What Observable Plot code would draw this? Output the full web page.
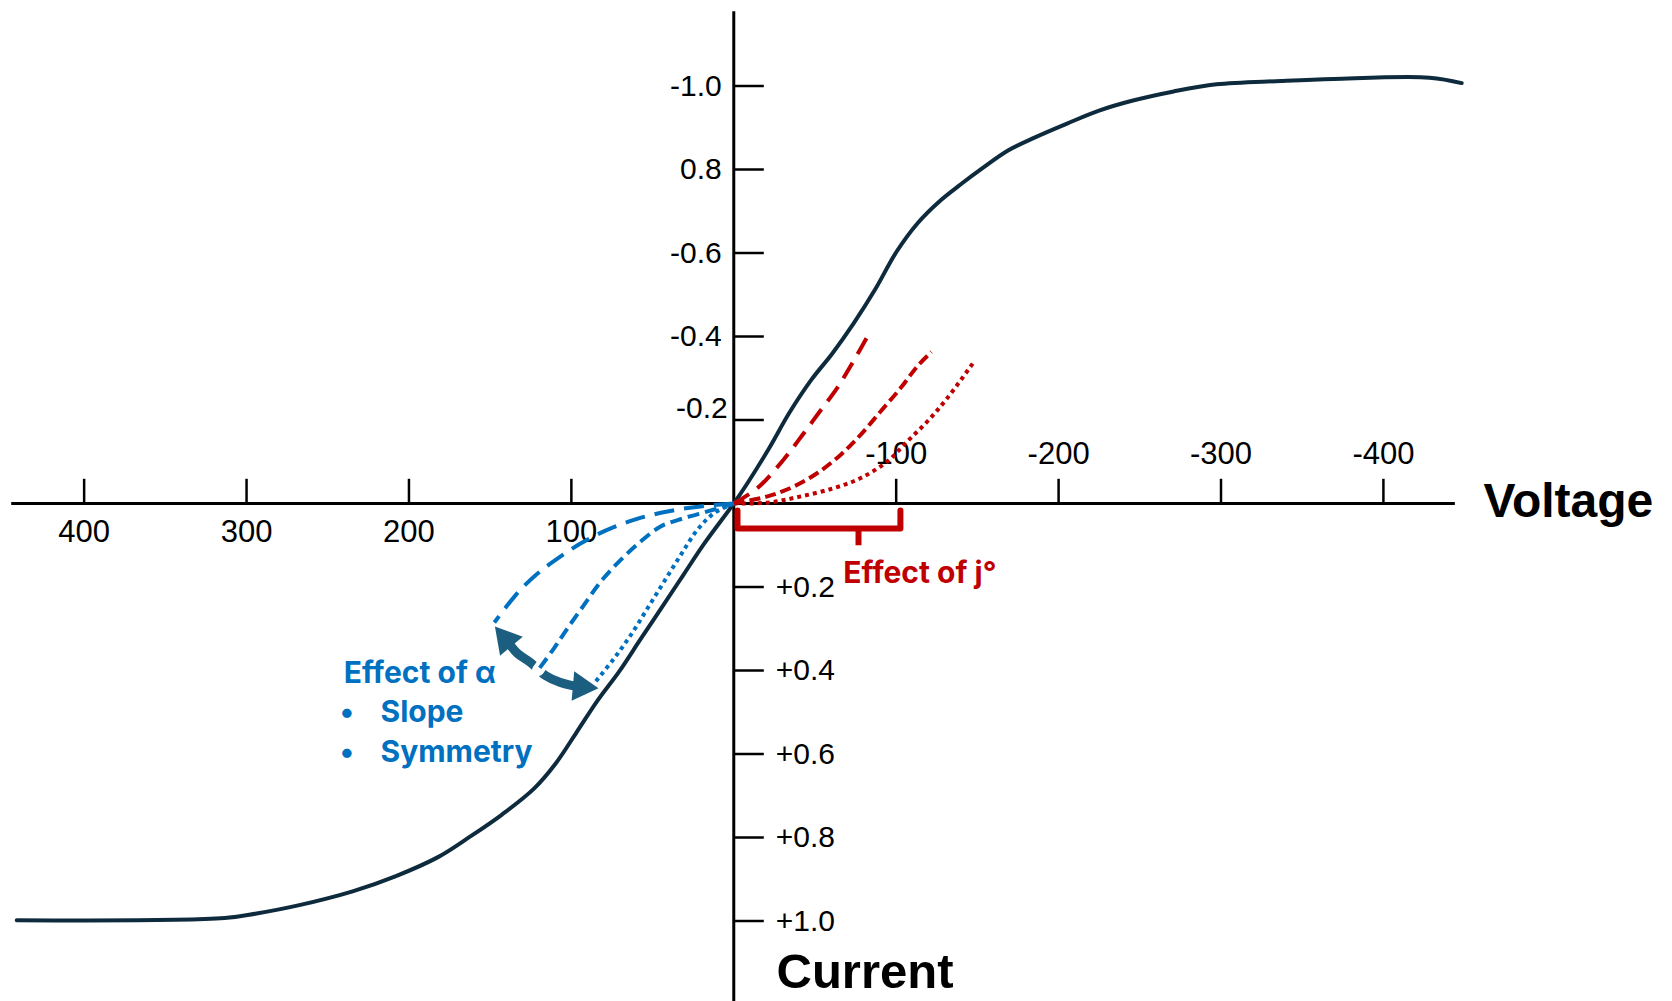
<!DOCTYPE html>
<html>
<head>
<meta charset="utf-8">
<script src="https://cdn.jsdelivr.net/npm/d3@7"></script>
<script src="https://cdn.jsdelivr.net/npm/@observablehq/plot@0.6"></script>
<style>
  html, body { margin: 0; padding: 0; background: #ffffff; }
  #chart svg { display: block; }
</style>
</head>
<body>
<div id="chart"></div>
<script>
// ---------------- DATA ----------------
// Voltage (mV, positive to the left) and current (normalised, negative upward)
const mainVoltage = [441.5, 313.5, 293.8, 267.5, 234.7, 208.4, 182.1, 162.4, 142.7, 123.0, 109.9, 96.8, 83.7, 70.5, 57.4, 44.3, 31.2, 18.0, 0,
  -8.3, -21.4, -34.5, -47.7, -60.8, -73.9, -87.1, -100.2, -113.3, -126.4, -139.6, -152.7, -169.1, -185.5, -205.2, -224.9, -244.6, -270.9, -297.2, -336.6, -369.4, -428.4, -448.2];
const mainCurrent = [0.998, 0.993, 0.982, 0.962, 0.929, 0.893, 0.847, 0.798, 0.745, 0.683, 0.624, 0.548, 0.471, 0.402, 0.325, 0.249, 0.172, 0.095, 0,
  -0.048, -0.130, -0.219, -0.296, -0.360, -0.432, -0.513, -0.603, -0.672, -0.723, -0.764, -0.802, -0.846, -0.877, -0.910, -0.941, -0.964, -0.987, -1.004, -1.012, -1.017, -1.020, -1.007];

// Effect of j° (red)
const redLongV = [0, -14.6, -30.0, -41.7, -52.5, -63.4, -72.5, -83.9];
const redLongI = [0, -0.037, -0.102, -0.161, -0.218, -0.275, -0.333, -0.411];
const redMidV = [0, -20.8, -37.1, -51.5, -65.9, -78.2, -90.5, -102.8, -113.1, -121.7];
const redMidI = [0, -0.017, -0.041, -0.073, -0.117, -0.165, -0.221, -0.277, -0.329, -0.363];
const redDotV = [0, -20.8, -41.3, -61.8, -78.2, -94.6, -106.9, -119.3, -131.6, -147.6];
const redDotI = [0, -0.002, -0.017, -0.037, -0.061, -0.101, -0.149, -0.197, -0.253, -0.338];

// Effect of α (blue)
const blueLongV = [0, 20.5, 40.8, 60.5, 79.0, 94.4, 108.6, 121.5, 134.4, 147.4];
const blueLongI = [0, 0.007, 0.019, 0.038, 0.065, 0.096, 0.132, 0.170, 0.220, 0.285];
const blueMidV = [0, 16.2, 30.6, 45.0, 57.3, 69.6, 81.9, 92.2, 102.4, 110.7, 120.5];
const blueMidI = [0, 0.019, 0.035, 0.055, 0.091, 0.135, 0.187, 0.243, 0.299, 0.347, 0.399];
const blueDotV = [0, 12.1, 22.4, 32.6, 42.9, 53.1, 63.4, 73.7, 86.0];
const blueDotI = [0, 0.023, 0.063, 0.123, 0.187, 0.251, 0.315, 0.371, 0.431];

// Axes
const axisVoltageExtent = [444.6, -444.3];
const axisCurrentExtent = [-1.178, 1.2];
const voltageTicksLeft = [400, 300, 200, 100];
const voltageTickLabelsLeft = ["400", "300", "200", "100"];
const voltageTicksRight = [-100, -200, -300, -400];
const voltageTickLabelsRight = ["-100", "-200", "-300", "-400"];
const currentTicksUp = [-1.0, -0.8, -0.6, -0.4, -0.2];
const currentTickLabelsUp = ["-1.0", "0.8", "-0.6", "-0.4", "-0.2"];
const currentTicksDown = [0.2, 0.4, 0.6, 0.8, 1.0];
const currentTickLabelsDown = ["+0.2", "+0.4", "+0.6", "+0.8", "+1.0"];

// Annotations (anchor points in data units)
const braceV = [-2.3, -2.3, -102.6, -102.6];
const braceI = [0.017, 0.06, 0.06, 0.017];
const braceStemV = [-76.8, -76.8];
const braceStemI = [0.06, 0.10];
const arrowArcV = [138.7, 133.2, 125.2, 116.0, 106.7, 97.0];
const arrowArcI = [0.333, 0.359, 0.381, 0.412, 0.429, 0.438];
const arrowHeadV = [140.3, 93.8];
const arrowHeadI = [0.326, 0.439];
const arrowHeadAngle = [-40, 95];

const titleTexts = ["Voltage", "Current"];
const titleV = [-461.6, -26.3];
const titleI = [-0.005, 1.123];
const noteTexts = ["Effect of j°", "Effect of α", "Slope", "Symmetry"];
const noteV = [-67.4, 240.2, 217.5, 217.5];
const noteI = [0.168, 0.407, 0.50, 0.596];
const bulletV = [238.2, 238.2];
const bulletI = [0.50, 0.596];

// ---------------- BUILD ----------------
const zip = (vs, is) => vs.map((v, k) => ({v, i: is[k]}));
const mainData = zip(mainVoltage, mainCurrent);
const red1 = zip(redLongV, redLongI), red2 = zip(redMidV, redMidI), red3 = zip(redDotV, redDotI);
const blue1 = zip(blueLongV, blueLongI), blue2 = zip(blueMidV, blueMidI), blue3 = zip(blueDotV, blueDotI);
const brace = zip(braceV, braceI), braceStem = zip(braceStemV, braceStemI);
const arc = zip(arrowArcV, arrowArcI);
const heads = arrowHeadV.map((v, k) => ({v, i: arrowHeadI[k], a: arrowHeadAngle[k]}));
const titles = titleTexts.map((t, k) => ({t, v: titleV[k], i: titleI[k]}));
const notes = noteTexts.map((t, k) => ({t, v: noteV[k], i: noteI[k]}));
const bullets = bulletV.map((v, k) => ({t: "•", v, i: bulletI[k]}));
const ticksLeft = voltageTicksLeft.map((v, k) => ({v, t: voltageTickLabelsLeft[k]}));
const ticksRight = voltageTicksRight.map((v, k) => ({v, t: voltageTickLabelsRight[k]}));
const ticksUp = currentTicksUp.map((i, k) => ({i, t: currentTickLabelsUp[k]}));
const ticksDown = currentTicksDown.map((i, k) => ({i, t: currentTickLabelsDown[k]}));

const RED = "#c00000", BLUE = "#0070c0", DARK = "#0e2b3d", ARROW = "#1b5e80";
const W = 1672, H = 1001;
const tickFont = "Liberation Sans, Arial, sans-serif";
const annFont = "Inter, 'Open Sans', sans-serif";

const chart = Plot.plot({
  width: W,
  height: H,
  margin: 0,
  style: {fontFamily: tickFont, background: "#ffffff", overflow: "visible"},
  x: {domain: [451.5, -578.0], range: [0, W], axis: null},
  y: {domain: [-1.2048, 1.1928], range: [0, H], axis: null},
  marks: [
    // axes
    Plot.ruleY([0], {x1: axisVoltageExtent[0], x2: axisVoltageExtent[1], stroke: "#000", strokeWidth: 3}),
    Plot.ruleX([0], {y1: axisCurrentExtent[0], y2: axisCurrentExtent[1], stroke: "#000", strokeWidth: 3}),
    Plot.ruleX([...voltageTicksLeft, ...voltageTicksRight], {x: d => d, y1: 0, y2: -0.058, stroke: "#000", strokeWidth: 2.5}),
    Plot.ruleY([...currentTicksUp, ...currentTicksDown], {y: d => d, x1: 0, x2: -18.8, stroke: "#000", strokeWidth: 2.5}),
    // tick labels
    Plot.text(ticksLeft, {x: "v", y: () => 0, text: "t", dy: 29, fontSize: 31, textAnchor: "middle", lineAnchor: "middle", fill: "#000"}),
    Plot.text(ticksRight, {x: "v", y: () => 0, text: "t", dy: -49, fontSize: 31, textAnchor: "middle", lineAnchor: "middle", fill: "#000"}),
    Plot.text(ticksUp.filter(d => d.t !== "-0.2"), {x: () => 0, y: "i", text: "t", dx: -12, fontSize: 30, textAnchor: "end", lineAnchor: "middle", fill: "#000"}),
    Plot.text(ticksUp.filter(d => d.t === "-0.2"), {x: () => 0, y: "i", text: "t", dx: -6, dy: -12, fontSize: 30, textAnchor: "end", lineAnchor: "middle", fill: "#000"}),
    Plot.text(ticksDown, {x: () => 0, y: "i", text: "t", dx: 42, fontSize: 30, textAnchor: "start", lineAnchor: "middle", fill: "#000"}),
    // main curve
    Plot.line(mainData, {x: "v", y: "i", curve: "catmull-rom", stroke: DARK, strokeWidth: 4}),
    // red family
    Plot.line(red1, {x: "v", y: "i", curve: "catmull-rom", stroke: RED, strokeWidth: 4, strokeLinecap: "butt", strokeDasharray: "18 10"}),
    Plot.line(red2, {x: "v", y: "i", curve: "catmull-rom", stroke: RED, strokeWidth: 4, strokeLinecap: "butt", strokeDasharray: "11 5"}),
    Plot.line(red3, {x: "v", y: "i", curve: "catmull-rom", stroke: RED, strokeWidth: 4, strokeLinecap: "butt", strokeDasharray: "4 4"}),
    // arrow
    Plot.line(arc, {x: "v", y: "i", curve: "catmull-rom", stroke: ARROW, strokeWidth: 9, strokeLinecap: "butt"}),
    Plot.dot(heads, {x: "v", y: "i", rotate: "a", symbol: "triangle", r: 11, fill: ARROW, stroke: null}),
    // gap where blue crosses arrow
    Plot.line(blue2.slice(-3), {x: "v", y: "i", curve: "catmull-rom", stroke: "#fff", strokeWidth: 12}),
    // blue family
    Plot.line(blue1, {x: "v", y: "i", curve: "natural", stroke: BLUE, strokeWidth: 4, strokeLinecap: "butt", strokeDasharray: "20 10"}),
    Plot.line(blue2, {x: "v", y: "i", curve: "catmull-rom", stroke: BLUE, strokeWidth: 4, strokeLinecap: "butt", strokeDasharray: "12 6"}),
    Plot.line(blue3, {x: "v", y: "i", curve: "catmull-rom", stroke: BLUE, strokeWidth: 4, strokeLinecap: "butt", strokeDasharray: "4 4"}),
    // brace
    Plot.line(brace, {x: "v", y: "i", stroke: RED, strokeWidth: 6, strokeLinejoin: "round"}),
    Plot.line(braceStem, {x: "v", y: "i", stroke: RED, strokeWidth: 6, strokeLinecap: "butt"}),
    // axis titles
    Plot.text(titles.slice(0, 1), {x: "v", y: "i", text: "t", fontSize: 48, fontWeight: "bold", textAnchor: "start", lineAnchor: "middle", fill: "#000", letterSpacing: 0.5}),
    Plot.text(titles.slice(1, 2), {x: "v", y: "i", text: "t", fontSize: 49, fontWeight: "bold", textAnchor: "start", lineAnchor: "middle", fill: "#000"}),
    // annotations
    Plot.text(notes.slice(0, 1), {x: "v", y: "i", text: "t", fontFamily: annFont, fontSize: 30, fontWeight: "bold", textAnchor: "start", lineAnchor: "middle", fill: RED}),
    Plot.text(notes.slice(1), {x: "v", y: "i", text: "t", fontFamily: annFont, fontSize: 30, fontWeight: "bold", textAnchor: "start", lineAnchor: "middle", fill: BLUE}),
    Plot.text(bullets, {x: "v", y: "i", text: "t", fontFamily: annFont, fontSize: 30, fontWeight: "bold", textAnchor: "middle", lineAnchor: "middle", fill: BLUE})
  ]
});
document.getElementById("chart").appendChild(chart);
</script>
</body>
</html>
